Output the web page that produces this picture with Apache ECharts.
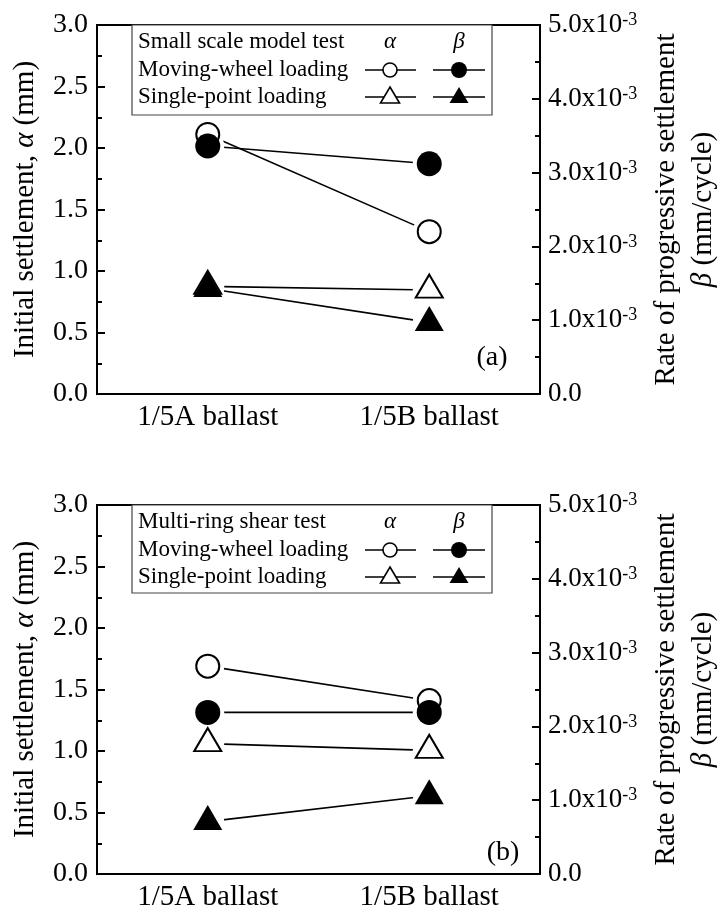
<!DOCTYPE html>
<html>
<head>
<meta charset="utf-8">
<script src="https://cdn.jsdelivr.net/npm/echarts@6/dist/echarts.min.js"></script>
<style>
  html, body { margin: 0; padding: 0; background: #fff; }
  #chart { width: 721px; height: 912px; }
</style>
</head>
<body>
<div id="chart"></div>
<script>
// Categories shared by both panels
const categories = ['1/5A ballast', '1/5B ballast'];

// Panel (a): small scale model test
const alphaMovingA = [2.11, 1.32];      // initial settlement, mm
const alphaSingleA = [0.875, 0.845];
const betaMovingA  = [0.00336, 0.00312]; // mm/cycle
const betaSingleA  = [0.00143, 0.00097];

// Panel (b): multi-ring shear test
const alphaMovingB = [1.69, 1.41];
const alphaSingleB = [1.06, 1.005];
const betaMovingB  = [0.00219, 0.00219];
const betaSingleB  = [0.00071, 0.00106];

// Axis ranges
const alphaMax = 3.0, alphaStep = 0.5;
const betaMax = 0.005, betaStep = 0.001;

const FONT = '"Liberation Serif", "Times New Roman", serif';

const grids = [
  { left: 97, top: 25, width: 443, height: 369 },
  { left: 97, top: 505, width: 443, height: 369 }
];

function xAxisFor(i) {
  return {
    type: 'category', gridIndex: i, data: categories,
    axisLine: { lineStyle: { color: '#000', width: 2 } },
    axisTick: { alignWithLabel: true, inside: true, length: 8, lineStyle: { color: '#000', width: 2 } },
    axisLabel: { color: '#000', fontFamily: FONT, fontSize: 29, margin: 9 },
    splitLine: { show: false }
  };
}

function leftAxisFor(i) {
  return {
    type: 'value', gridIndex: i, position: 'left', min: 0, max: alphaMax, interval: alphaStep,
    name: '{r|Initial settlement, }{i|α}{r| (mm)}',
    nameLocation: 'middle', nameRotate: 90, nameGap: 57,
    nameTextStyle: {
      rich: {
        r: { fontFamily: FONT, fontSize: 29, color: '#000' },
        i: { fontFamily: FONT, fontSize: 29, color: '#000', fontStyle: 'italic' }
      }
    },
    axisLine: { show: true, lineStyle: { color: '#000', width: 2 } },
    axisTick: { show: true, inside: true, length: 8, lineStyle: { color: '#000', width: 2 } },
    minorTick: { show: true, splitNumber: 2, length: 5, lineStyle: { color: '#000', width: 2 } },
    axisLabel: { color: '#000', fontFamily: FONT, fontSize: 28, margin: 9,
      formatter: v => v.toFixed(1) },
    splitLine: { show: false }
  };
}

function rightAxisFor(i) {
  return {
    type: 'value', gridIndex: i, position: 'right', min: 0, max: betaMax, interval: betaStep,
    name: '{r|Rate of progressive settlement}\n{i|β}{r| (mm/cycle)}',
    nameLocation: 'middle', nameRotate: 90, nameGap: 104,
    nameTextStyle: {
      lineHeight: 37,
      rich: {
        r: { fontFamily: FONT, fontSize: 29, color: '#000', lineHeight: 37 },
        i: { fontFamily: FONT, fontSize: 29, color: '#000', fontStyle: 'italic', lineHeight: 37 }
      }
    },
    axisLine: { show: true, lineStyle: { color: '#000', width: 2 } },
    axisTick: { show: true, inside: true, length: 8, lineStyle: { color: '#000', width: 2 } },
    minorTick: { show: true, splitNumber: 2, length: 5, lineStyle: { color: '#000', width: 2 } },
    axisLabel: {
      color: '#000', margin: 8,
      formatter: v => {
        const m = Math.round(v / 0.001 * 10) / 10;
        if (m === 0) return '{m|0.0}';
        return '{m|' + m.toFixed(1) + 'x10}{e|-3}';
      },
      rich: {
        m: { fontFamily: FONT, fontSize: 27, color: '#000' },
        e: { fontFamily: FONT, fontSize: 18, color: '#000', verticalAlign: 'top' }
      }
    },
    splitLine: { show: false }
  };
}

// Each data set: connecting line, white halo (gap around markers), marker
function dataSet(gridIdx, yIdx, values, shape, filled, zMark) {
  const isTri = shape === 'triangle';
  const markSize = isTri ? (filled ? [29, 25] : [27, 23]) : (filled ? 25 : 23);
  const offset = isTri ? [0, -4] : [0, 0];
  return [
    {
      type: 'line', xAxisIndex: gridIdx, yAxisIndex: yIdx, data: values,
      symbol: 'none', lineStyle: { color: '#000', width: 1.6, opacity: 1 }, z: 1, silent: true
    },
    {
      type: 'scatter', xAxisIndex: gridIdx, yAxisIndex: yIdx, data: values,
      symbol: 'circle', symbolSize: 33, itemStyle: { color: '#fff', opacity: 1 }, z: 2, silent: true
    },
    {
      type: 'scatter', xAxisIndex: gridIdx, yAxisIndex: yIdx, data: values,
      symbol: shape, symbolSize: markSize, symbolOffset: offset,
      itemStyle: filled ? { color: '#000', borderWidth: 0, opacity: 1 }
                        : { color: '#fff', borderColor: '#000', borderWidth: 2, opacity: 1 },
      z: zMark, silent: true
    }
  ];
}

const series = [].concat(
  dataSet(0, 0, alphaMovingA, 'circle', false, 3),
  dataSet(0, 0, alphaSingleA, 'triangle', false, 3),
  dataSet(0, 1, betaMovingA, 'circle', true, 4),
  dataSet(0, 1, betaSingleA, 'triangle', true, 4),
  dataSet(1, 2, alphaMovingB, 'circle', false, 3),
  dataSet(1, 2, alphaSingleB, 'triangle', false, 3),
  dataSet(1, 3, betaMovingB, 'circle', true, 4),
  dataSet(1, 3, betaSingleB, 'triangle', true, 4)
);

// Legend table drawn as graphics
function legendBox(top, height, heading) {
  const rows = [top + 17, top + 45, top + 72];
  const txt = (t, x, y, align, italic) => ({
    type: 'text', silent: true,
    style: { text: t, x: x, y: y, fill: '#000',
      font: (italic ? 'italic ' : '') + '23px ' + FONT,
      textAlign: align, align: align, textVerticalAlign: 'middle', verticalAlign: 'middle' }
  });
  const seg = (x1, x2, y) => ({
    type: 'line', silent: true, shape: { x1: x1, y1: y, x2: x2, y2: y },
    style: { stroke: '#000', lineWidth: 1.6 }
  });
  const circ = (cx, cy, filled) => ({
    type: 'circle', silent: true, shape: { cx: cx, cy: cy, r: filled ? 8 : 7 },
    style: filled ? { fill: '#000' } : { fill: '#fff', stroke: '#000', lineWidth: 1.6 }
  });
  const tri = (cx, cy, filled) => ({
    type: 'polygon', silent: true,
    shape: { points: [[cx, cy - 10], [cx + 9.5, cy + 6], [cx - 9.5, cy + 6]] },
    style: filled ? { fill: '#000' } : { fill: '#fff', stroke: '#000', lineWidth: 1.6 }
  });
  const ax = 390, bx = 459;
  return [
    { type: 'rect', silent: true, shape: { x: 132, y: top, width: 360, height: height },
      style: { fill: '#fff', stroke: '#444', lineWidth: 1.2 } },
    txt(heading, 138, rows[0], 'left', false),
    txt('Moving-wheel loading', 138, rows[1], 'left', false),
    txt('Single-point loading', 138, rows[2], 'left', false),
    txt('α', ax, rows[0], 'center', true),
    txt('β', bx, rows[0], 'center', true),
    seg(365, 416, rows[1]), circ(ax, rows[1], false),
    seg(433, 485, rows[1]), circ(bx, rows[1], true),
    seg(365, 416, rows[2]), tri(ax, rows[2], false),
    seg(433, 485, rows[2]), tri(bx, rows[2], true)
  ];
}

const panelTag = (t, x, y) => ({
  type: 'text', silent: true,
  style: { text: t, x: x, y: y, fill: '#000', font: '28px ' + FONT,
    textAlign: 'center', align: 'center', textVerticalAlign: 'middle', verticalAlign: 'middle' }
});

const chart = echarts.init(document.getElementById('chart'), null, { renderer: 'canvas' });
chart.setOption({
  animation: false,
  backgroundColor: '#fff',
  grid: grids.map(g => Object.assign({ show: true, borderColor: '#000', borderWidth: 2,
    backgroundColor: 'transparent', containLabel: false, outerBoundsMode: 'none' }, g)),
  xAxis: [xAxisFor(0), xAxisFor(1)],
  yAxis: [leftAxisFor(0), rightAxisFor(0), leftAxisFor(1), rightAxisFor(1)],
  series: series,
  graphic: [].concat(
    legendBox(25, 90, 'Small scale model test'),
    legendBox(505, 88, 'Multi-ring shear test'),
    [panelTag('(a)', 492, 358), panelTag('(b)', 503, 853)]
  )
});
</script>
</body>
</html>
